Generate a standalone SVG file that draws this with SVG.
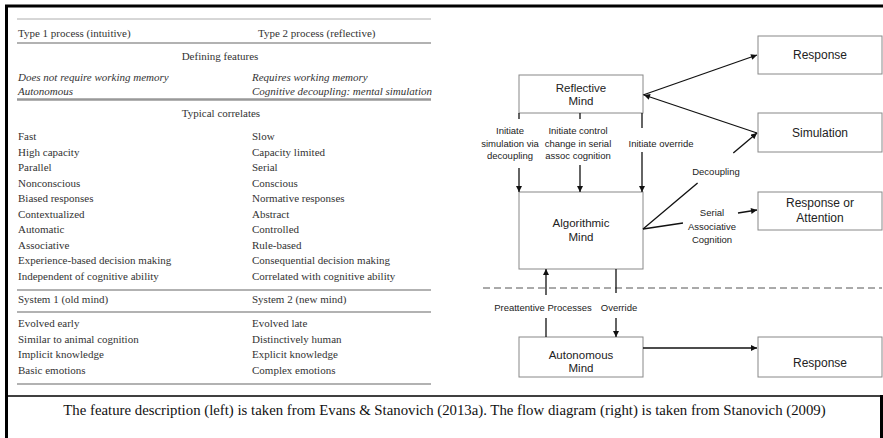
<svg xmlns="http://www.w3.org/2000/svg" width="883" height="438" viewBox="0 0 883 438">
<style>
.t{font-family:"Liberation Serif","Times New Roman",serif;font-size:11px;fill:#333}
.ti{font-family:"Liberation Serif","Times New Roman",serif;font-size:11px;fill:#333;font-style:italic}
.cap{font-family:"Liberation Serif","Times New Roman",serif;font-size:14.8px;fill:#111}
.rule{stroke:#999;fill:none}
.box rect{fill:#fff;stroke:#888;stroke-width:1}
.bl{font-family:"Liberation Sans",Arial,sans-serif;font-size:11.5px;fill:#222;text-anchor:middle}
.br{font-family:"Liberation Sans",Arial,sans-serif;font-size:12px;fill:#222;text-anchor:middle}
.lab{font-family:"Liberation Sans",Arial,sans-serif;font-size:9.5px;fill:#222;text-anchor:middle}
.c{stroke:#111;stroke-width:1.3;fill:none}
.ca{stroke:#111;stroke-width:1.3;fill:none;marker-end:url(#ah)}
</style>
<defs>
<marker id="ah" viewBox="0 0 10 10" refX="10" refY="5" markerWidth="7" markerHeight="6" markerUnits="userSpaceOnUse" orient="auto">
<path d="M0,0 L10,5 L0,10 z" fill="#111"/>
</marker>
</defs>
<rect width="883" height="438" fill="#fff"/>
<!-- frame -->
<g id="frame">
<line x1="5" y1="6" x2="883" y2="6" stroke="#000" stroke-width="3"/>
<line x1="6.5" y1="5" x2="6.5" y2="438" stroke="#000" stroke-width="3"/>
<line x1="5" y1="396" x2="882" y2="396" stroke="#000" stroke-width="1.5"/>
<line x1="881.5" y1="395" x2="881.5" y2="438" stroke="#000" stroke-width="3"/>
</g>
<!-- table -->
<g id="table">
<line class="rule" x1="17" y1="19" x2="431" y2="19" stroke-width="0.8" stroke="#ccc"/>
<line class="rule" x1="17" y1="43" x2="431" y2="43" stroke-width="1.5"/>
<line class="rule" x1="17" y1="99.5" x2="431" y2="99.5" stroke-width="2.5"/>
<line class="rule" x1="17" y1="290" x2="431" y2="290" stroke-width="1.5"/>
<line class="rule" x1="17" y1="312" x2="431" y2="312" stroke-width="1.5"/>
<line class="rule" x1="17" y1="384" x2="431" y2="384" stroke-width="1.5"/>
<text class="t" x="18" y="37">Type 1 process (intuitive)</text>
<text class="t" x="258" y="37">Type 2 process (reflective)</text>
<text class="t" x="220" y="60" text-anchor="middle">Defining features</text>
<text class="ti" x="18" y="81">Does not require working memory</text>
<text class="ti" x="252" y="81">Requires working memory</text>
<text class="ti" x="18" y="95">Autonomous</text>
<text class="ti" x="252" y="95">Cognitive decoupling: mental simulation</text>
<text class="t" x="221" y="117" text-anchor="middle">Typical correlates</text>
<text class="t" x="18" y="140">Fast</text><text class="t" x="252" y="140">Slow</text>
<text class="t" x="18" y="155.5">High capacity</text><text class="t" x="252" y="155.5">Capacity limited</text>
<text class="t" x="18" y="171">Parallel</text><text class="t" x="252" y="171">Serial</text>
<text class="t" x="18" y="186.5">Nonconscious</text><text class="t" x="252" y="186.5">Conscious</text>
<text class="t" x="18" y="202">Biased responses</text><text class="t" x="252" y="202">Normative responses</text>
<text class="t" x="18" y="217.5">Contextualized</text><text class="t" x="252" y="217.5">Abstract</text>
<text class="t" x="18" y="233">Automatic</text><text class="t" x="252" y="233">Controlled</text>
<text class="t" x="18" y="248.5">Associative</text><text class="t" x="252" y="248.5">Rule-based</text>
<text class="t" x="18" y="264">Experience-based decision making</text><text class="t" x="252" y="264">Consequential decision making</text>
<text class="t" x="18" y="279.5">Independent of cognitive ability</text><text class="t" x="252" y="279.5">Correlated with cognitive ability</text>
<text class="t" x="18" y="303">System 1 (old mind)</text><text class="t" x="252" y="303">System 2 (new mind)</text>
<text class="t" x="18" y="327">Evolved early</text><text class="t" x="252" y="327">Evolved late</text>
<text class="t" x="18" y="342.5">Similar to animal cognition</text><text class="t" x="252" y="342.5">Distinctively human</text>
<text class="t" x="18" y="358">Implicit knowledge</text><text class="t" x="252" y="358">Explicit knowledge</text>
<text class="t" x="18" y="373.5">Basic emotions</text><text class="t" x="252" y="373.5">Complex emotions</text>
</g>
<text class="cap" x="444.5" y="415" text-anchor="middle">The feature description (left) is taken from Evans &amp; Stanovich (2013a). The flow diagram (right) is taken from Stanovich (2009)</text>
<!-- diagram nodes -->
<g id="reflective" class="box"><rect x="519" y="75" width="124" height="38"/><text class="bl" x="581" y="92">Reflective</text><text class="bl" x="581" y="105">Mind</text></g>
<g id="algorithmic" class="box"><rect x="519" y="192" width="124" height="77"/><text class="bl" x="581" y="227">Algorithmic</text><text class="bl" x="581" y="241">Mind</text></g>
<g id="autonomous" class="box"><rect x="519" y="337" width="124" height="40"/><text class="bl" x="581" y="359">Autonomous</text><text class="bl" x="581" y="372">Mind</text></g>
<g id="response1" class="box"><rect x="758" y="36" width="124" height="38"/><text class="br" x="820" y="59">Response</text></g>
<g id="simulation" class="box"><rect x="758" y="113" width="124" height="39"/><text class="br" x="820" y="137">Simulation</text></g>
<g id="responseattention" class="box"><rect x="758" y="192" width="124" height="38"/><text class="br" x="820" y="207">Response or</text><text class="br" x="820" y="222">Attention</text></g>
<g id="response2" class="box"><rect x="758" y="337" width="124" height="40"/><text class="br" x="820" y="367">Response</text></g>
<!-- connectors -->
<g id="connectors">
<line x1="483" y1="288" x2="882" y2="288" stroke="#555" stroke-width="1" stroke-dasharray="7 4"/>
<line class="ca" x1="643" y1="95" x2="757" y2="55"/>
<line class="ca" x1="757" y1="133" x2="644" y2="95"/>
<line class="c" x1="643" y1="229" x2="697.6" y2="183"/>
<line class="ca" x1="733.3" y1="153" x2="757" y2="133"/>
<line class="c" x1="643" y1="229" x2="683" y2="223"/>
<line class="ca" x1="738" y1="213" x2="757" y2="210"/>
<line class="c" x1="519" y1="113" x2="519" y2="119"/>
<line class="ca" x1="519" y1="168" x2="519" y2="192"/>
<line class="c" x1="580" y1="113" x2="580" y2="119"/>
<line class="ca" x1="580" y1="165" x2="580" y2="192"/>
<line class="c" x1="642" y1="113" x2="642" y2="128"/>
<line class="ca" x1="642" y1="152" x2="642" y2="192"/>
<line class="ca" x1="546" y1="295" x2="546" y2="269"/>
<line class="c" x1="546" y1="318" x2="546" y2="337"/>
<line class="c" x1="616" y1="269" x2="616" y2="293" stroke-width="2"/>
<line class="ca" x1="616" y1="318" x2="616" y2="337" stroke-width="2"/>
<line class="ca" x1="643" y1="348" x2="757" y2="348"/>
<text class="lab" x="510" y="134">Initiate</text>
<text class="lab" x="510" y="147">simulation via</text>
<text class="lab" x="510" y="159">decoupling</text>
<text class="lab" x="578" y="134">Initiate control</text>
<text class="lab" x="578" y="147">change in serial</text>
<text class="lab" x="578" y="159">assoc cognition</text>
<text class="lab" x="661" y="147">Initiate override</text>
<text class="lab" x="716" y="175">Decoupling</text>
<text class="lab" x="712" y="216">Serial</text>
<text class="lab" x="712" y="230">Associative</text>
<text class="lab" x="712" y="243">Cognition</text>
<text class="lab" x="543" y="311">Preattentive Processes</text>
<text class="lab" x="619" y="311">Override</text>
</g>
</svg>
